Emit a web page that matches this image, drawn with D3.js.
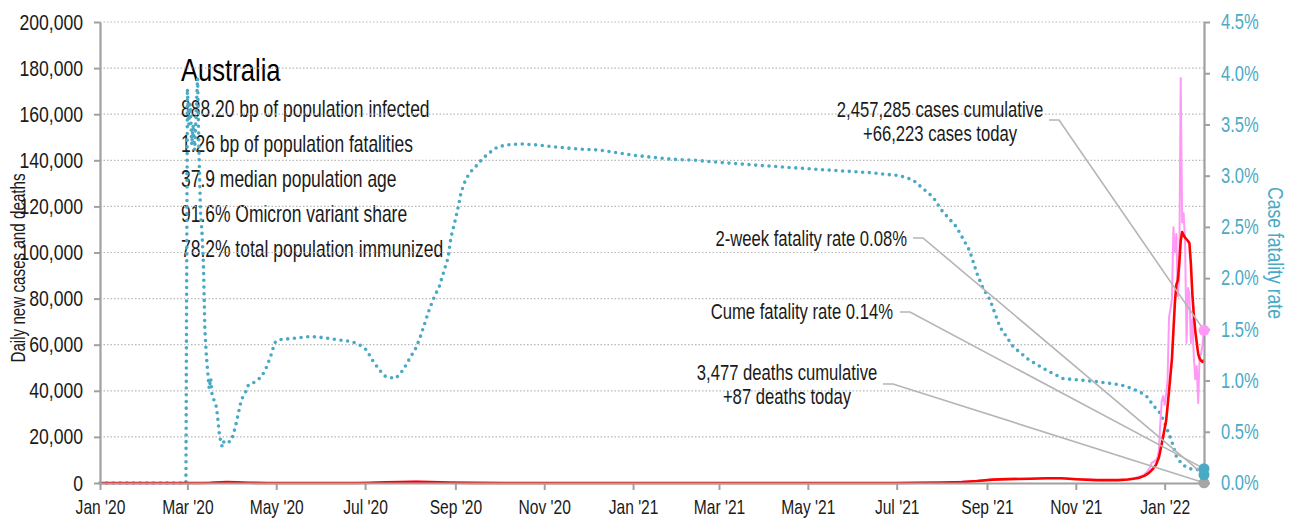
<!DOCTYPE html>
<html>
<head>
<meta charset="utf-8">
<script src="https://cdn.jsdelivr.net/npm/d3@7"></script>
<style>
  html, body { margin: 0; padding: 0; background: #fff; }
  svg { display: block; }
</style>
</head>
<body>
<svg id="chart" width="1292" height="520"></svg>
<script>
// ---- Data -----------------------------------------------------------------
const country = "Australia";
const statLines = [
  "888.20 bp of population infected",
  "1.26 bp of population fatalities",
  "37.9 median population age",
  "91.6% Omicron variant share",
  "78.2% total population immunized"
];

const leftTicks = [0, 20000, 40000, 60000, 80000, 100000, 120000, 140000, 160000, 180000, 200000];
const rightTicks = [0, 0.5, 1.0, 1.5, 2.0, 2.5, 3.0, 3.5, 4.0, 4.5];

// Case fatality rate (%), cumulative deaths / cumulative cases
const cfrDates = [
  "2020-01-01","2020-02-29","2020-03-01","2020-03-02","2020-03-03","2020-03-04","2020-03-05",
  "2020-03-06","2020-03-07","2020-03-08","2020-03-09","2020-03-10","2020-03-11","2020-03-12",
  "2020-03-13","2020-03-14","2020-03-15","2020-03-16","2020-03-17","2020-03-18","2020-03-19",
  "2020-03-20","2020-03-21","2020-03-22","2020-03-23","2020-03-24","2020-03-25","2020-03-26",
  "2020-03-28","2020-03-30","2020-04-01","2020-04-03","2020-04-05","2020-04-07","2020-04-10",
  "2020-04-12","2020-04-17","2020-04-21","2020-04-24","2020-04-27","2020-04-30","2020-05-03",
  "2020-05-12","2020-05-24","2020-06-02","2020-06-11","2020-06-22","2020-06-27","2020-07-02",
  "2020-07-06","2020-07-11","2020-07-15","2020-07-22","2020-07-27","2020-07-31","2020-08-05",
  "2020-08-08","2020-08-11","2020-08-14","2020-08-17","2020-08-21","2020-08-24","2020-08-27",
  "2020-08-29","2020-09-01","2020-09-03","2020-09-05","2020-09-08","2020-09-11","2020-09-15",
  "2020-09-20","2020-09-24","2020-09-30","2020-10-06","2020-10-15","2020-10-27","2020-11-09",
  "2020-11-25","2020-12-09","2020-12-18","2021-01-01","2021-01-14","2021-01-28","2021-02-13",
  "2021-03-01","2021-03-29","2021-05-09","2021-06-12","2021-07-03","2021-07-12","2021-07-26",
  "2021-08-01","2021-08-11","2021-08-20","2021-08-25","2021-08-29","2021-09-03","2021-09-10",
  "2021-09-19","2021-09-30","2021-10-12","2021-10-23","2021-11-15","2021-12-01","2021-12-06",
  "2021-12-15","2021-12-20","2021-12-24","2021-12-29","2022-01-02","2022-01-06","2022-01-09",
  "2022-01-13","2022-01-18","2022-01-23","2022-01-28"
];
const cfrValues = [
  0, 0, 3.85, 3.50, 3.70, 3.30, 3.50,
  3.25, 3.60, 3.95, 3.20, 2.65, 2.45, 2.15,
  1.50, 1.25, 1.08, 0.92, 1.02, 0.85, 0.82,
  0.78, 0.74, 0.61, 0.47, 0.40, 0.35, 0.40,
  0.42, 0.40, 0.45, 0.55, 0.68, 0.81, 0.89,
  0.96, 0.99, 1.04, 1.12, 1.23, 1.37, 1.40,
  1.41, 1.43, 1.42, 1.40, 1.38, 1.35, 1.30,
  1.20, 1.10, 1.04, 1.02, 1.10, 1.20, 1.32,
  1.43, 1.56, 1.69, 1.80, 1.92, 2.06, 2.20,
  2.40, 2.57, 2.70, 2.84, 2.96, 3.03, 3.09,
  3.17, 3.22, 3.28, 3.30, 3.31, 3.30, 3.28,
  3.26, 3.25, 3.23, 3.20, 3.18, 3.16, 3.15,
  3.13, 3.10, 3.06, 3.03, 3.00, 2.96, 2.79,
  2.66, 2.50, 2.27, 2.05, 1.91, 1.79, 1.52,
  1.33, 1.20, 1.10, 1.02, 0.99, 0.96, 0.94,
  0.89, 0.84, 0.76, 0.68, 0.55, 0.40, 0.26,
  0.18, 0.14, 0.13, 0.14
];

// Daily new cases
const dailyDates = [
  "2020-01-01","2020-03-10","2020-03-24","2020-04-04","2020-04-25","2020-07-05","2020-07-25",
  "2020-08-05","2020-08-28","2020-10-05","2021-06-30","2021-08-01","2021-08-25","2021-09-05",
  "2021-09-20","2021-10-05","2021-10-15","2021-10-25","2021-11-05","2021-11-20","2021-12-01",
  "2021-12-05","2021-12-08","2021-12-11","2021-12-14","2021-12-16","2021-12-18","2021-12-19",
  "2021-12-20","2021-12-21","2021-12-22","2021-12-23","2021-12-24","2021-12-25","2021-12-26",
  "2021-12-27","2021-12-28","2021-12-29","2021-12-30","2021-12-31","2022-01-01","2022-01-02",
  "2022-01-03","2022-01-04","2022-01-05","2022-01-06","2022-01-07","2022-01-08","2022-01-09",
  "2022-01-10","2022-01-11","2022-01-12","2022-01-13","2022-01-14","2022-01-15","2022-01-16",
  "2022-01-17","2022-01-18","2022-01-19","2022-01-20","2022-01-21","2022-01-22","2022-01-23",
  "2022-01-24","2022-01-25","2022-01-26","2022-01-27","2022-01-28"
];
const dailyValues = [
  0, 20, 350, 250, 20, 130, 450,
  600, 150, 15, 25, 230, 900, 1500,
  1750, 1950, 2150, 2050, 1600, 1200, 1300,
  1500, 1800, 2000, 2700, 3000, 3700, 4300,
  4900, 6000, 6700, 8700, 9000, 9500, 10000,
  11000, 14000, 26000, 35600, 37700, 34000, 38600,
  45000, 72000, 75500, 80000, 111000, 100000, 108000,
  81000, 88500, 175700, 113000, 117000, 105000, 60700,
  84600, 82000, 60700, 71000, 55000, 45000, 50800,
  34700, 55000, 56000, 60000, 66223
];

// Daily new cases, 7-day average
const avgDates = [
  "2020-01-01","2020-02-25","2020-03-10","2020-03-17","2020-03-24","2020-03-28","2020-04-04",
  "2020-04-12","2020-04-25","2020-05-15","2020-06-10","2020-06-25","2020-07-05","2020-07-15",
  "2020-07-25","2020-08-05","2020-08-15","2020-08-28","2020-09-15","2020-10-05","2020-11-01",
  "2020-12-01","2020-12-25","2021-01-10","2021-02-15","2021-04-01","2021-06-01","2021-06-30",
  "2021-07-15","2021-08-01","2021-08-15","2021-08-25","2021-09-05","2021-09-15","2021-10-01",
  "2021-10-12","2021-10-22","2021-11-01","2021-11-15","2021-11-30","2021-12-07","2021-12-14",
  "2021-12-18","2021-12-21","2021-12-24","2021-12-26","2021-12-28","2021-12-30","2022-01-02",
  "2022-01-04","2022-01-06","2022-01-08","2022-01-09","2022-01-10","2022-01-11","2022-01-12",
  "2022-01-13","2022-01-14","2022-01-15","2022-01-17","2022-01-18","2022-01-19","2022-01-20",
  "2022-01-21","2022-01-22","2022-01-23","2022-01-24","2022-01-25","2022-01-26","2022-01-27",
  "2022-01-28"
];
const avgValues = [
  0, 2, 15, 80, 330, 380, 260,
  80, 20, 15, 10, 30, 120, 280,
  420, 560, 380, 150, 45, 15, 10,
  8, 20, 15, 8, 10, 10, 25,
  80, 220, 450, 850, 1450, 1700, 1850,
  2050, 2050, 1650, 1250, 1250, 1550, 2200,
  3100, 4300, 6200, 7800, 11000, 17000, 27000,
  40000, 54000, 78000, 86000, 88000, 95000, 105000,
  108900, 107500, 106500, 105000, 104000, 95000, 82000,
  73000, 66000, 61000, 56000, 54000, 53000, 52500,
  53500
];

// Latest figures shown in the call-outs
const casesCumulative = 2457285;
const casesToday = 66223;
const twoWeekFatalityRate = 0.08;
const cumeFatalityRate = 0.14;
const deathsCumulative = 3477;
const deathsToday = 87;

// ---- Layout & styles -------------------------------------------------------
const FONT = "'Liberation Sans', Arial, sans-serif";
const SQUEEZE = 0.8;            // horizontal compression giving a condensed face
const TEAL = "#4aaac6";
const PINK = "#ff99f5";
const RED = "#ff0000";
const INK = "#1a1a1a";
const AXIS_GREY = "#a0a0a0";
const GRID_GREY = "#b8b8b8";
const LEADER_GREY = "#b5b5b5";

const plot = { left: 100, right: 1204, top: 22, bottom: 483 };
const parse = d3.timeParse("%Y-%m-%d");

const svg = d3.select("#chart");

const x = d3.scaleTime()
  .domain([parse("2020-01-01"), parse("2022-01-28")])
  .range([plot.left, plot.right]);
const yL = d3.scaleLinear().domain([0, 200000]).range([plot.bottom, plot.top]);
const yR = d3.scaleLinear().domain([0, 4.5]).range([plot.bottom, plot.top]);

const fmtComma = d3.format(",");
const fmtPct = d => d.toFixed(1) + "%";

// Condensed text placed at (tx, ty), optionally rotated
function label(parent, tx, ty, str, size, opts = {}) {
  const rot = opts.rotate ? ` rotate(${opts.rotate})` : "";
  const sq = opts.squeeze || SQUEEZE;
  return parent.append("text")
    .attr("transform", `translate(${tx},${ty})${rot} scale(${sq},1)`)
    .attr("text-anchor", opts.anchor || "start")
    .attr("font-family", FONT)
    .attr("font-size", size)
    .attr("fill", opts.fill || INK)
    .text(str);
}

// ---- Info block ------------------------------------------------------------
label(svg, 181, 81, country, 32, { fill: "#000" });
statLines.forEach((s, i) => label(svg, 181, 117 + i * 35, s, 23, { squeeze: 0.76 }));

// ---- Gridlines -------------------------------------------------------------
svg.append("g")
  .selectAll("line")
  .data(leftTicks.filter(d => d > 0))
  .join("line")
  .attr("x1", plot.left).attr("x2", plot.right)
  .attr("y1", d => yL(d)).attr("y2", d => yL(d))
  .attr("stroke", GRID_GREY).attr("stroke-width", 1.2)
  .attr("stroke-dasharray", "1.5,2");

// ---- Series ----------------------------------------------------------------
const cfr = cfrDates.map((d, i) => ({ date: parse(d), v: cfrValues[i] }));
const daily = dailyDates.map((d, i) => ({ date: parse(d), v: dailyValues[i] }));
const avg = avgDates.map((d, i) => ({ date: parse(d), v: avgValues[i] }));

svg.append("path")
  .datum(cfr)
  .attr("fill", "none")
  .attr("stroke", TEAL)
  .attr("stroke-width", 3.6)
  .attr("stroke-linecap", "round")
  .attr("stroke-dasharray", "0,6.7")
  .attr("d", d3.line().x(d => x(d.date)).y(d => yR(d.v)));

svg.append("path")
  .datum(daily)
  .attr("fill", "none")
  .attr("stroke", PINK)
  .attr("stroke-width", 2)
  .attr("stroke-linejoin", "round")
  .attr("d", d3.line().x(d => x(d.date)).y(d => yL(d.v)));

svg.append("path")
  .datum(avg)
  .attr("fill", "none")
  .attr("stroke", RED)
  .attr("stroke-width", 2.6)
  .attr("stroke-linejoin", "round")
  .attr("d", d3.line().x(d => x(d.date)).y(d => yL(d.v)));

// ---- Axes ------------------------------------------------------------------
function styleAxis(g, color, size, shift, sq) {
  g.select(".domain").attr("stroke", AXIS_GREY).attr("stroke-width", 2.2);
  g.selectAll(".tick line").attr("stroke", AXIS_GREY).attr("stroke-width", 2);
  g.selectAll(".tick text")
    .attr("font-family", FONT).attr("font-size", size).attr("fill", color)
    .attr("transform", `scale(${sq},1)`)
    .attr("x", shift / sq);
}

const gL = svg.append("g")
  .attr("transform", `translate(${plot.left},0)`)
  .call(d3.axisLeft(yL).tickValues(leftTicks).tickFormat(fmtComma).tickSize(6).tickSizeOuter(0));
styleAxis(gL, INK, 22, -17, 0.8);

const gR = svg.append("g")
  .attr("transform", `translate(${plot.right},0)`)
  .call(d3.axisRight(yR).tickValues(rightTicks).tickFormat(fmtPct).tickSize(6).tickSizeOuter(0));
styleAxis(gR, TEAL, 21.5, 17, 0.77);

const gX = svg.append("g")
  .attr("transform", `translate(0,${plot.bottom})`)
  .call(d3.axisBottom(x).ticks(d3.timeMonth.every(2)).tickFormat(d3.timeFormat("%b '%y")).tickSize(7).tickSizeOuter(0).tickPadding(10));
styleAxis(gX, INK, 20, 0, 0.78);

// Axis titles
label(svg, 25, 268, "Daily new cases and deaths", 19.5, { anchor: "middle", rotate: -90, squeeze: 0.78 });
label(svg, 1268, 253, "Case fatality rate", 22, { anchor: "middle", rotate: 90, fill: TEAL });

// ---- Call-outs -------------------------------------------------------------
const callouts = [
  { lines: [fmtComma(casesCumulative) + " cases cumulative", "+" + fmtComma(casesToday) + " cases today"],
    tx: 940, ty: 117, anchor: "middle", lx: 1049, ly: 120, target: yL(casesToday) },
  { lines: ["2-week fatality rate " + twoWeekFatalityRate.toFixed(2) + "%"],
    tx: 907, ty: 246, anchor: "end", lx: 913, ly: 238, target: yR(twoWeekFatalityRate) },
  { lines: ["Cume fatality rate " + cumeFatalityRate.toFixed(2) + "%"],
    tx: 893, ty: 319, anchor: "end", lx: 900, ly: 312, target: yR(cumeFatalityRate) },
  { lines: [fmtComma(deathsCumulative) + " deaths cumulative", "+" + deathsToday + " deaths today"],
    tx: 787, ty: 380, anchor: "middle", lx: 883, ly: 384, target: yL(deathsToday) }
];

const co = svg.append("g");
callouts.forEach(c => {
  co.append("path")
    .attr("fill", "none")
    .attr("stroke", LEADER_GREY)
    .attr("stroke-width", 1.6)
    .attr("d", `M${c.lx},${c.ly}H${c.lx + 10}L${plot.right},${c.target}`);
  c.lines.forEach((ln, i) => label(co, c.tx, c.ty + i * 24, ln, 21.5, { anchor: c.anchor, squeeze: 0.775 }));
});

// End-point markers
const markers = [
  { y: yL(deathsToday), color: "#a6a6a6" },
  { y: yR(twoWeekFatalityRate), color: TEAL },
  { y: yR(cumeFatalityRate), color: TEAL },
  { y: yL(casesToday), color: PINK }
];
svg.append("g").selectAll("circle")
  .data(markers)
  .join("circle")
  .attr("cx", plot.right)
  .attr("cy", d => d.y)
  .attr("r", 5.5)
  .attr("fill", d => d.color);
</script>
</body>
</html>
